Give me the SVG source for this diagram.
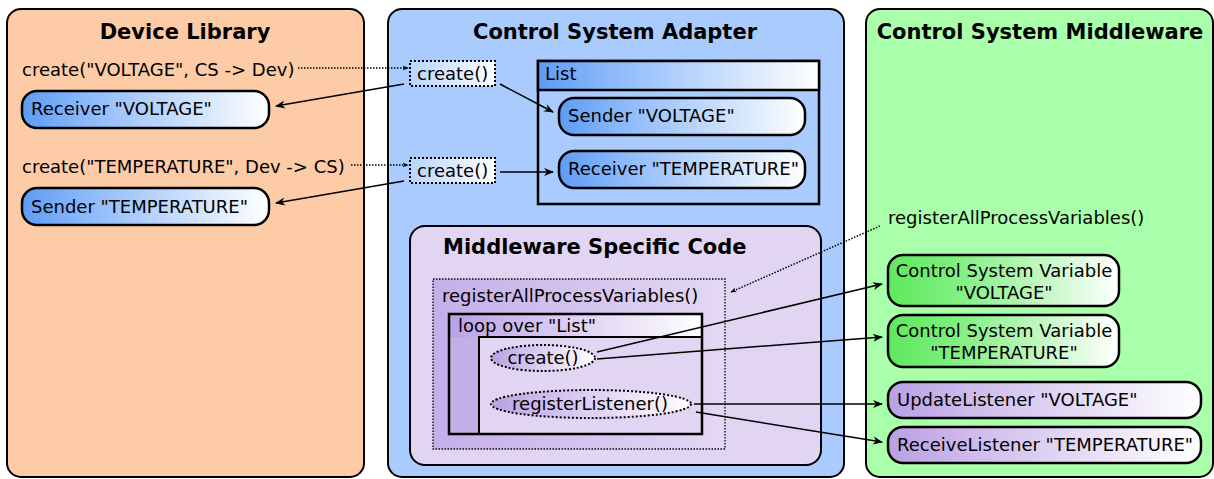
<svg xmlns="http://www.w3.org/2000/svg" width="1214" height="479" viewBox="0 0 1214 479">
  <defs>
    <linearGradient id="gBlue" x1="0" y1="0" x2="1" y2="0">
      <stop offset="0" stop-color="#5d9cf4"/>
      <stop offset="0.25" stop-color="#8ab8fa"/>
      <stop offset="1" stop-color="#ffffff"/>
    </linearGradient>
    <linearGradient id="gBlueLight" x1="0" y1="0" x2="1" y2="0">
      <stop offset="0" stop-color="#b8d4ff"/>
      <stop offset="1" stop-color="#ffffff"/>
    </linearGradient>
    <linearGradient id="gGreen" x1="0" y1="0" x2="1" y2="0">
      <stop offset="0" stop-color="#5ee85e"/>
      <stop offset="0.3" stop-color="#80f080"/>
      <stop offset="1" stop-color="#ffffff"/>
    </linearGradient>
    <linearGradient id="gPurple" x1="0" y1="0" x2="1" y2="0">
      <stop offset="0" stop-color="#b9a0e4"/>
      <stop offset="0.25" stop-color="#cdb9ec"/>
      <stop offset="1" stop-color="#ffffff"/>
    </linearGradient>
    <linearGradient id="gPurpleBox" x1="0" y1="0" x2="1" y2="0">
      <stop offset="0" stop-color="#c4aee8"/>
      <stop offset="1" stop-color="#e4d8f4"/>
    </linearGradient>
    <marker id="arrow" viewBox="0 0 10 10" refX="9" refY="5" markerWidth="6" markerHeight="6" markerUnits="userSpaceOnUse" orient="auto">
      <path d="M0,1 L10,5 L0,9 L3,5 Z" fill="#000"/>
    </marker>
    <marker id="arrowBig" viewBox="0 0 10 10" refX="9" refY="5" markerWidth="12" markerHeight="10" markerUnits="userSpaceOnUse" orient="auto">
      <path d="M0,1 L10,5 L0,9 L3,5 Z" fill="#000"/>
    </marker>
  </defs>
  <style>
    text { font-family: "DejaVu Sans", "Liberation Sans", sans-serif; fill: #000; }
    .title { font-size: 21px; font-weight: bold; }
    .lbl { font-size: 18px; }
    .panel { stroke: #000; stroke-width: 2; }
    .pill { stroke: #000; stroke-width: 2.5; }
    .dots { stroke: #000; stroke-width: 2; stroke-dasharray: 2 2; }
    .frame { fill: none; stroke: #000; stroke-width: 2.5; }
    .conn { fill: none; stroke: #000; stroke-width: 1.5; marker-end: url(#arrowBig); }
    .dconn { fill: none; stroke: #000; stroke-width: 1.5; stroke-dasharray: 1.5 1.5; marker-end: url(#arrow); }
  </style>

  <rect width="1214" height="479" fill="#ffffff"/>

  <!-- Device Library -->
  <g id="device-library">
    <rect class="panel" x="7" y="9" width="357" height="468" rx="14" fill="#fecba7"/>
    <text class="title" x="185" y="39" text-anchor="middle">Device Library</text>
    <text class="lbl" x="22" y="76">create("VOLTAGE", CS -&gt; Dev)</text>
    <text class="lbl" x="22" y="173">create("TEMPERATURE", Dev -&gt; CS)</text>
  </g>
  <g id="receiver-voltage">
    <rect class="pill" x="22" y="91" width="247" height="37" rx="15" fill="url(#gBlue)"/>
    <text class="lbl" x="31" y="115">Receiver "VOLTAGE"</text>
  </g>
  <g id="sender-temperature">
    <rect class="pill" x="22" y="188" width="247" height="37" rx="15" fill="url(#gBlue)"/>
    <text class="lbl" x="31" y="213">Sender "TEMPERATURE"</text>
  </g>

  <!-- Control System Adapter -->
  <g id="cs-adapter">
    <rect class="panel" x="388" y="9" width="456" height="468" rx="14" fill="#a9cbfd"/>
    <text class="title" x="615" y="39" text-anchor="middle">Control System Adapter</text>
  </g>
  <g id="create-1">
    <rect class="dots" x="410" y="61" width="85" height="25" fill="url(#gBlueLight)"/>
    <text class="lbl" x="417" y="80">create()</text>
  </g>
  <g id="create-2">
    <rect class="dots" x="410" y="158" width="85" height="25" fill="url(#gBlueLight)"/>
    <text class="lbl" x="417" y="177">create()</text>
  </g>
  <g id="list">
    <rect x="538" y="61" width="281" height="143" fill="#a9cbfd" stroke="#000" stroke-width="2.5"/>
    <rect x="538" y="61" width="281" height="29" fill="url(#gBlue)" stroke="#000" stroke-width="2.5"/>
    <text class="lbl" x="545" y="80">List</text>
  </g>
  <g id="sender-voltage">
    <rect class="pill" x="559" y="98" width="246" height="37" rx="15" fill="url(#gBlue)"/>
    <text class="lbl" x="568" y="122">Sender "VOLTAGE"</text>
  </g>
  <g id="receiver-temperature">
    <rect class="pill" x="559" y="151" width="246" height="37" rx="15" fill="url(#gBlue)"/>
    <text class="lbl" x="568" y="175">Receiver "TEMPERATURE"</text>
  </g>

  <!-- Middleware Specific Code -->
  <g id="middleware-specific">
    <rect class="panel" x="410" y="226" width="411" height="239" rx="15" fill="#e2d5f4"/>
    <text class="title" x="443" y="254">Middleware Specific Code</text>
  </g>
  <g id="register-all">
    <rect x="433" y="279" width="292" height="170" fill="url(#gPurpleBox)" stroke="#000" stroke-width="1.3" stroke-dasharray="1.5 1.5"/>
    <text class="lbl" x="442" y="302">registerAllProcessVariables()</text>
  </g>
  <g id="loop">
    <rect x="449" y="314" width="253" height="120" fill="#c4aee8"/>
    <rect x="449" y="314" width="253" height="23" fill="url(#gPurple)"/>
    <rect x="479" y="337" width="223" height="97" fill="#e2d5f4" stroke="#000" stroke-width="2"/>
    <rect class="frame" x="449" y="314" width="253" height="120"/>
    <text class="lbl" x="458" y="332">loop over "List"</text>
  </g>
  <g id="create-var">
    <ellipse class="dots" cx="543" cy="358" rx="52" ry="13" fill="url(#gPurple)"/>
    <text class="lbl" x="543" y="364" text-anchor="middle">create()</text>
  </g>
  <g id="register-listener">
    <ellipse class="dots" cx="591" cy="404" rx="100" ry="14" fill="url(#gPurple)"/>
    <text class="lbl" x="590" y="410" text-anchor="middle">registerListener()</text>
  </g>

  <!-- Control System Middleware -->
  <g id="cs-middleware">
    <rect class="panel" x="866" y="9" width="347" height="468" rx="14" fill="#aaffaa"/>
    <text class="title" x="1040" y="39" text-anchor="middle">Control System Middleware</text>
    <text class="lbl" x="888" y="224">registerAllProcessVariables()</text>
  </g>
  <g id="csv-voltage">
    <rect class="pill" x="888" y="255" width="231" height="51" rx="15" fill="url(#gGreen)"/>
    <text class="lbl" x="1004" y="277" text-anchor="middle">Control System Variable</text>
    <text class="lbl" x="1004" y="299" text-anchor="middle">"VOLTAGE"</text>
  </g>
  <g id="csv-temperature">
    <rect class="pill" x="888" y="315" width="231" height="52" rx="15" fill="url(#gGreen)"/>
    <text class="lbl" x="1004" y="337" text-anchor="middle">Control System Variable</text>
    <text class="lbl" x="1004" y="359" text-anchor="middle">"TEMPERATURE"</text>
  </g>
  <g id="update-listener">
    <rect class="pill" x="888" y="382" width="313" height="36" rx="15" fill="url(#gPurple)"/>
    <text class="lbl" x="897" y="406">UpdateListener "VOLTAGE"</text>
  </g>
  <g id="receive-listener">
    <rect class="pill" x="888" y="427" width="313" height="36" rx="15" fill="url(#gPurple)"/>
    <text class="lbl" x="897" y="451">ReceiveListener "TEMPERATURE"</text>
  </g>

  <!-- Connectors -->
  <g id="connectors">
    <path class="dconn" d="M298,68 L408,68"/>
    <path class="dconn" d="M351,165 L408,165"/>
    <path class="conn" d="M404,84 L276,106"/>
    <path class="conn" d="M404,181 L276,203"/>
    <path class="conn" d="M500,84 L553,112"/>
    <path class="conn" d="M500,172 L553,172"/>
    <path class="dconn" d="M880,226 L731,292"/>
    <path class="conn" d="M597,352 L882,284"/>
    <path class="conn" d="M597,359 L882,337"/>
    <path class="conn" d="M694,404 L882,404"/>
    <path class="conn" d="M696,412 L882,442"/>
  </g>
</svg>
